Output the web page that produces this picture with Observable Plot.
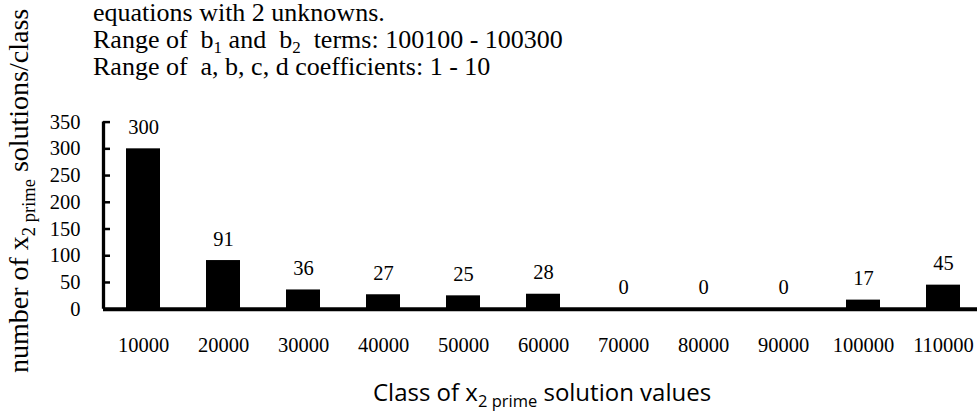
<!DOCTYPE html>
<html>
<head>
<meta charset="utf-8">
<script src="https://cdn.jsdelivr.net/npm/d3@7"></script>
<script src="https://cdn.jsdelivr.net/npm/@observablehq/plot@0.6"></script>
<style>
  html, body { margin: 0; padding: 0; background: #ffffff; overflow: hidden; }
  #chart svg { display: block; }
</style>
</head>
<body>
<div id="chart"></div>
<script>
// ---- data ----
const classes = ["10000", "20000", "30000", "40000", "50000", "60000", "70000", "80000", "90000", "100000", "110000"];
const counts = [300, 91, 36, 27, 25, 28, 0, 0, 0, 17, 45];
const yTicks = [0, 50, 100, 150, 200, 250, 300, 350];
const subtitleLine1 = "equations with 2 unknowns.";
const yLabelMain = "number of x";
const yLabelSub = "2 prime";
const yLabelEnd = " solutions/class";
const xLabelMain = "Class of x";
const xLabelSub = "2 prime";
const xLabelEnd = " solution values";

const data = classes.map((c, i) => ({cls: c, count: counts[i]}));

const serif = "'Liberation Serif', 'Times New Roman', serif";

const chart = Plot.plot({
  width: 977,
  height: 414,
  marginLeft: 103,
  marginRight: -6,
  marginTop: 121.6,
  marginBottom: 105.3,
  x: {domain: classes, paddingInner: 0.58, paddingOuter: 0.29, label: null},
  y: {domain: [0, 350], label: null},
  style: {fontFamily: serif, fontSize: "20.5px", color: "black", background: "white", overflow: "hidden"},
  marks: [
    Plot.barY(data, {x: "cls", y: "count", fill: "black"}),
    Plot.ruleY(yTicks, {y: d => d, insetRight: 873, strokeWidth: 2.5}),
    Plot.ruleY([0], {strokeWidth: 4}),
    Plot.ruleX([classes[0]], {x: d => d, dx: -40, strokeWidth: 3.3}),
    Plot.text(data, {x: "cls", y: "count", text: d => String(d.count), dy: -21.5, fontSize: 20.5, fontFamily: serif}),
    Plot.axisX({tickSize: 0, tickPadding: 28, label: null, fontSize: 20.5, fontFamily: serif}),
    Plot.axisY({ticks: yTicks, tickSize: 0, tickPadding: 23, label: null, fontSize: 20.5, fontFamily: serif, tickFormat: d => String(d)})
  ]
});

document.getElementById("chart").appendChild(chart);

const svg = d3.select(chart);

// subtitle lines
const sub = svg.append("g")
  .attr("font-family", serif)
  .attr("font-size", 26)
  .attr("fill", "black")
  .attr("text-anchor", "start")
  .style("white-space", "pre");

sub.append("text").attr("x", 93).attr("y", 21).text(subtitleLine1);

const l2 = sub.append("text").attr("x", 93).attr("y", 48);
l2.append("tspan").text("Range of  b");
l2.append("tspan").attr("font-size", 17).attr("dy", 5).text("1");
l2.append("tspan").attr("dy", -5).text(" and  b");
l2.append("tspan").attr("font-size", 17).attr("dy", 5).text("2");
l2.append("tspan").attr("dy", -5).text("  terms: 100100 - 100300");

sub.append("text").attr("x", 93).attr("y", 75).text("Range of  a, b, c, d coefficients: 1 - 10");

// y-axis title (rotated)
const yl = svg.append("text")
  .attr("transform", "translate(28,373) rotate(-90)")
  .attr("text-anchor", "start")
  .attr("font-family", serif)
  .attr("font-size", 28)
  .attr("fill", "black")
  .style("white-space", "pre");
yl.append("tspan").text(yLabelMain);
yl.append("tspan").attr("font-size", 18.5).attr("dy", 7).text(yLabelSub);
yl.append("tspan").attr("dy", -7).text(yLabelEnd);

// x-axis title
const xl = svg.append("text")
  .attr("x", 373)
  .attr("y", 401)
  .attr("text-anchor", "start")
  .attr("font-family", "'Open Sans', Lato, sans-serif")
  .attr("font-size", 24)
  .attr("fill", "black")
  .style("white-space", "pre");
xl.append("tspan").text(xLabelMain);
xl.append("tspan").attr("font-size", 16.5).attr("dy", 6).text(xLabelSub);
xl.append("tspan").attr("dy", -6).text(xLabelEnd);
</script>
</body>
</html>
